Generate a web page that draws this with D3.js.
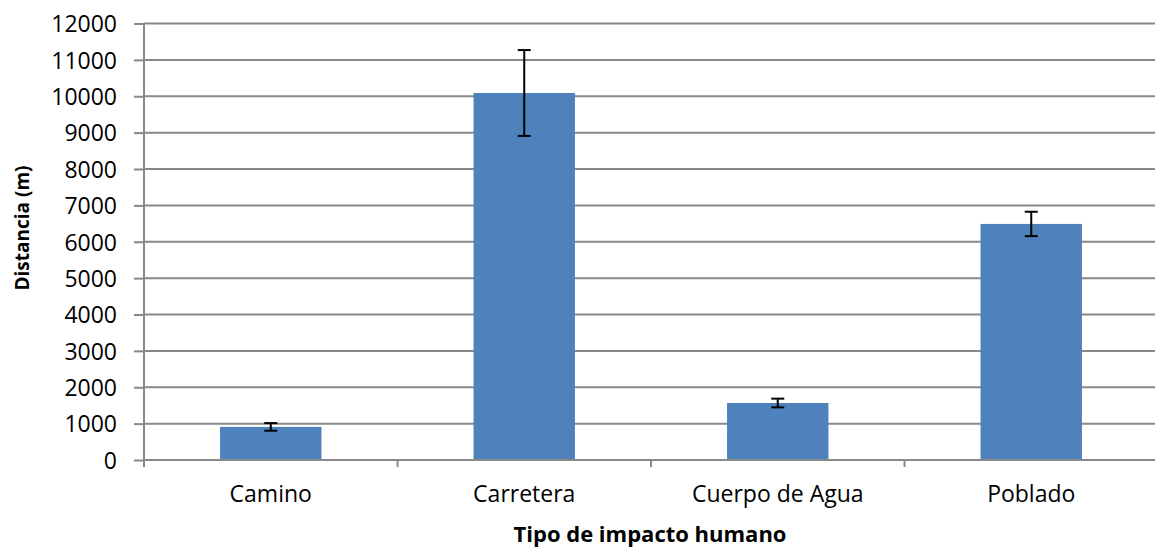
<!DOCTYPE html>
<html><head><meta charset="utf-8">
<script src="https://cdn.jsdelivr.net/npm/d3@7"></script>
<style>body{margin:0;background:#fff}svg{display:block}</style>
</head><body>
<svg id="c" width="1155" height="548"></svg>
<script>
const categories = ["Camino", "Carretera", "Cuerpo de Agua", "Poblado"];
const values = [910, 10090, 1567, 6490];
const errors = [105, 1180, 120, 335];
const yTicks = [0,1000,2000,3000,4000,5000,6000,7000,8000,9000,10000,11000,12000];
const xTitle = "Tipo de impacto humano";
const yTitle = "Distancia (m)";

const svg = d3.select("#c");
const L = 144, R = 1158, T = 23.5, B = 460;
const grey = "#898989";
const font = "'Open Sans', sans-serif";

const y = d3.scaleLinear().domain([0, 12000]).range([B, T]);
const x = d3.scaleBand().domain(categories).range([L, R]).paddingInner(0.6).paddingOuter(0.3);

// gridlines
svg.append("g").selectAll("line").data(yTicks.filter(d => d > 0)).join("line")
  .attr("x1", L).attr("x2", R).attr("y1", d => y(d)).attr("y2", d => y(d))
  .attr("stroke", grey).attr("stroke-width", 2);

// y axis
const yAxis = svg.append("g").attr("transform", `translate(${L},0)`)
  .call(d3.axisLeft(y).tickValues(yTicks).tickSize(10).tickPadding(17).tickFormat(d3.format("d")));
yAxis.select(".domain").attr("stroke", grey).attr("stroke-width", 2).attr("d", `M0,${T}V${B}`);
yAxis.selectAll(".tick line").attr("stroke", grey).attr("stroke-width", 2);
yAxis.selectAll(".tick text").attr("font-family", font).attr("font-size", 23).attr("fill", "#000").attr("dy", "0.36em");

// bars
svg.append("g").selectAll("rect").data(categories).join("rect")
  .attr("x", d => x(d)).attr("width", x.bandwidth())
  .attr("y", (d, i) => y(values[i])).attr("height", (d, i) => B - y(values[i]))
  .attr("fill", "#4F81BD");

// x axis
const xb = x.step();
const bounds = d3.range(categories.length + 1).map(i => L + i * xb);
svg.append("line").attr("x1", L).attr("x2", R).attr("y1", B).attr("y2", B).attr("stroke", grey).attr("stroke-width", 2);
svg.append("g").selectAll("line").data(bounds).join("line")
  .attr("x1", d => d).attr("x2", d => d).attr("y1", B).attr("y2", B + 7)
  .attr("stroke", grey).attr("stroke-width", 2);
svg.append("g").selectAll("text").data(categories).join("text")
  .attr("x", d => x(d) + x.bandwidth() / 2).attr("y", 502)
  .attr("text-anchor", "middle").attr("font-family", font).attr("font-size", 23).attr("fill", "#000")
  .text(d => d);

// error bars
const eb = svg.append("g").attr("stroke", "#000").attr("stroke-width", 2);
categories.forEach((c, i) => {
  const cx = x(c) + x.bandwidth() / 2;
  const y1 = y(values[i] + errors[i]), y2 = y(values[i] - errors[i]);
  eb.append("line").attr("x1", cx).attr("x2", cx).attr("y1", y1).attr("y2", y2);
  eb.append("line").attr("x1", cx - 6.5).attr("x2", cx + 6.5).attr("y1", y1).attr("y2", y1);
  eb.append("line").attr("x1", cx - 6.5).attr("x2", cx + 6.5).attr("y1", y2).attr("y2", y2);
});

// titles
svg.append("text").attr("x", 650).attr("y", 542).attr("text-anchor", "middle")
  .attr("font-family", font).attr("font-weight", "bold").attr("font-size", 22).attr("fill", "#000").text(xTitle);
svg.append("text").attr("transform", "translate(29,228) rotate(-90)").attr("text-anchor", "middle")
  .attr("font-family", font).attr("font-weight", "bold").attr("font-size", 19).attr("fill", "#000").text(yTitle);
</script>
</body></html>
